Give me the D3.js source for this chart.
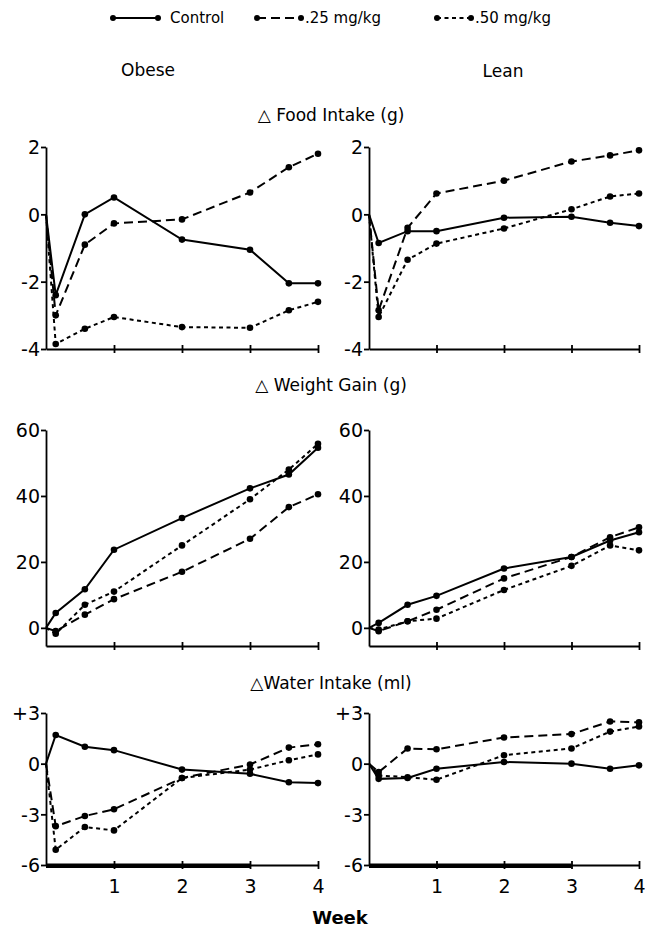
<!DOCTYPE html>
<html>
<head>
<meta charset="utf-8">
<script src="https://cdn.jsdelivr.net/npm/d3@7"></script>
<style>
  body { margin: 0; background: #fff; }
  svg text { font-family: "DejaVu Sans", sans-serif; fill: #000; }
</style>
</head>
<body>
<div id="chart"></div>
<script>
// days after start, plotted in weeks
var days = [0, 1, 4, 7, 14, 21, 25, 28];
var weekTicks = [1, 2, 3, 4];

var groupNames = ["Control", ".25 mg/kg", ".50 mg/kg"];
var columnNames = ["Obese", "Lean"];
var rowTitles = ["\u25B3 Food Intake (g)", "\u25B3 Weight Gain (g)", "\u25B3Water Intake (ml)"];

// food intake change (g)
var foodObeseControl = [0, -2.4, 0.0, 0.5, -0.75, -1.05, -2.05, -2.05];
var foodObese25 = [0, -3.0, -0.9, -0.27, -0.15, 0.65, 1.4, 1.8];
var foodObese50 = [0, -3.85, -3.4, -3.05, -3.35, -3.37, -2.85, -2.6];
var foodLeanControl = [0, -0.85, -0.5, -0.5, -0.1, -0.07, -0.25, -0.35];
var foodLean25 = [0, -2.85, -0.4, 0.62, 1.0, 1.57, 1.75, 1.9];
var foodLean50 = [0, -3.05, -1.35, -0.87, -0.42, 0.15, 0.53, 0.62];

// weight gain (g)
var weightObeseControl = [0, 4.5, 11.7, 23.7, 33.3, 42.3, 46.5, 54.6];
var weightObese25 = [0, -1, 4, 8.7, 17, 27, 36.6, 40.5];
var weightObese50 = [0, -1.8, 7, 11, 25, 39, 48, 55.8];
var weightLeanControl = [0, 1.5, 7, 9.7, 18, 21.5, 26.5, 29];
var weightLean25 = [0, -1, 2, 5.5, 15, 21.5, 27.5, 30.5];
var weightLean50 = [0, -0.5, 2, 2.8, 11.5, 18.8, 25, 23.5];

// water intake change (ml)
var waterObeseControl = [0, 1.7, 1.0, 0.8, -0.35, -0.6, -1.1, -1.15];
var waterObese25 = [0, -3.7, -3.1, -2.7, -0.85, -0.05, 0.95, 1.15];
var waterObese50 = [0, -5.1, -3.75, -3.95, -0.85, -0.35, 0.2, 0.55];
var waterLeanControl = [0, -0.9, -0.85, -0.3, 0.1, 0.0, -0.3, -0.1];
var waterLean25 = [0, -0.5, 0.9, 0.85, 1.55, 1.75, 2.5, 2.45];
var waterLean50 = [0, -0.7, -0.8, -0.95, 0.5, 0.9, 1.9, 2.2];

var foodTicks = [2, 0, -2, -4];
var weightTicks = [60, 40, 20, 0];
var waterTicks = [3, 0, -3, -6];
var waterTickLabels = ["+3", "0", "-3", "-6"];

// treatment period shown as a heavy bar on the water axes (weeks)
var treatmentWeeks = [0, 3];

var width = 646, height = 932;
var svg = d3.select("#chart").append("svg")
    .attr("width", width)
    .attr("height", height);

var dashes = [null, "9,5", "4,3.5"];

var rows = [
  { title: rowTitles[0], titleY: 121, domain: [-4, 2], range: [349, 147], ticks: foodTicks,
    fmt: d => String(d), series: [[foodObeseControl, foodObese25, foodObese50], [foodLeanControl, foodLean25, foodLean50]] },
  { title: rowTitles[1], titleY: 391, domain: [-5.5, 60], range: [646, 430], ticks: weightTicks,
    fmt: d => String(d), series: [[weightObeseControl, weightObese25, weightObese50], [weightLeanControl, weightLean25, weightLean50]] },
  { title: rowTitles[2], titleY: 689, domain: [-6, 3], range: [865, 713], ticks: waterTicks,
    fmt: (d, i) => waterTickLabels[i], series: [[waterObeseControl, waterObese25, waterObese50], [waterLeanControl, waterLean25, waterLean50]], last: true }
];

var cols = [{ x0: 46, x1: 318 }, { x0: 369, x1: 639 }];

// legend
var legendItems = [
  { a: 113, b: 158, tx: 170 },
  { a: 257, b: 301, tx: 305 },
  { a: 437, b: 471, tx: 475 }
];
legendItems.forEach(function(li, i) {
  var g = svg.append("g");
  g.append("line")
    .attr("x1", li.a).attr("x2", li.b).attr("y1", 18).attr("y2", 18)
    .attr("stroke", "#000").attr("stroke-width", 2)
    .attr("stroke-dasharray", dashes[i]);
  [li.a, li.b].forEach(function(cx) {
    g.append("circle").attr("cx", cx).attr("cy", 18).attr("r", 3).attr("fill", "#000");
  });
  g.append("text").attr("x", li.tx).attr("y", 23)
    .style("font-size", "15px").text(groupNames[i]);
});

// column headers
svg.append("text").attr("x", 148).attr("y", 76).attr("text-anchor", "middle")
  .style("font-size", "17px").text(columnNames[0]);
svg.append("text").attr("x", 503).attr("y", 77).attr("text-anchor", "middle")
  .style("font-size", "17px").text(columnNames[1]);

rows.forEach(function(row) {
  svg.append("text")
    .attr("x", 331).attr("y", row.titleY)
    .attr("text-anchor", "middle")
    .style("font-size", "17px")
    .text(row.title);

  cols.forEach(function(col, ci) {
    var x = d3.scaleLinear().domain([0, 4]).range([col.x0, col.x1]);
    var y = d3.scaleLinear().domain(row.domain).range(row.range);

    // y axis
    var yAxis = svg.append("g")
      .attr("transform", "translate(" + col.x0 + ",0)")
      .call(d3.axisLeft(y).tickValues(row.ticks).tickFormat(row.fmt).tickSize(5).tickSizeOuter(0));
    yAxis.selectAll("path, line").attr("stroke", "#000").attr("stroke-width", 1.8);
    yAxis.selectAll("text").style("font-size", "19px").attr("dx", "2px").attr("dy", "0.36em");

    // x axis
    var xAxis = svg.append("g")
      .attr("transform", "translate(0," + row.range[0] + ")")
      .call(d3.axisBottom(x).tickValues(weekTicks).tickSize(4).tickSizeOuter(0)
        .tickFormat(row.last ? d3.format("d") : ""));
    xAxis.selectAll("path, line").attr("stroke", "#000").attr("stroke-width", 1.8);
    xAxis.selectAll(".tick line").attr("y1", -4);
    xAxis.selectAll("text").style("font-size", "19px").attr("dy", "1.1em");

    if (row.last) {
      svg.append("rect")
        .attr("x", x(treatmentWeeks[0]))
        .attr("y", row.range[0] - 1.5)
        .attr("width", x(treatmentWeeks[1]) - x(treatmentWeeks[0]))
        .attr("height", 4.5)
        .attr("fill", "#000");
    }

    var line = d3.line()
      .x(function(d, i) { return x(days[i] / 7); })
      .y(function(d) { return y(d); });

    row.series[ci].forEach(function(vals, si) {
      svg.append("path")
        .datum(vals)
        .attr("d", line)
        .attr("fill", "none")
        .attr("stroke", "#000")
        .attr("stroke-width", 2)
        .attr("stroke-dasharray", dashes[si]);
      svg.selectAll(null)
        .data(vals.slice(1))
        .enter()
        .append("circle")
        .attr("cx", function(d, i) { return x(days[i + 1] / 7); })
        .attr("cy", function(d) { return y(d); })
        .attr("r", 3.3)
        .attr("fill", "#000");
    });
  });
});

svg.append("text").attr("x", 340).attr("y", 924).attr("text-anchor", "middle")
  .style("font-size", "18px").style("font-weight", "bold").text("Week");
</script>
</body>
</html>
